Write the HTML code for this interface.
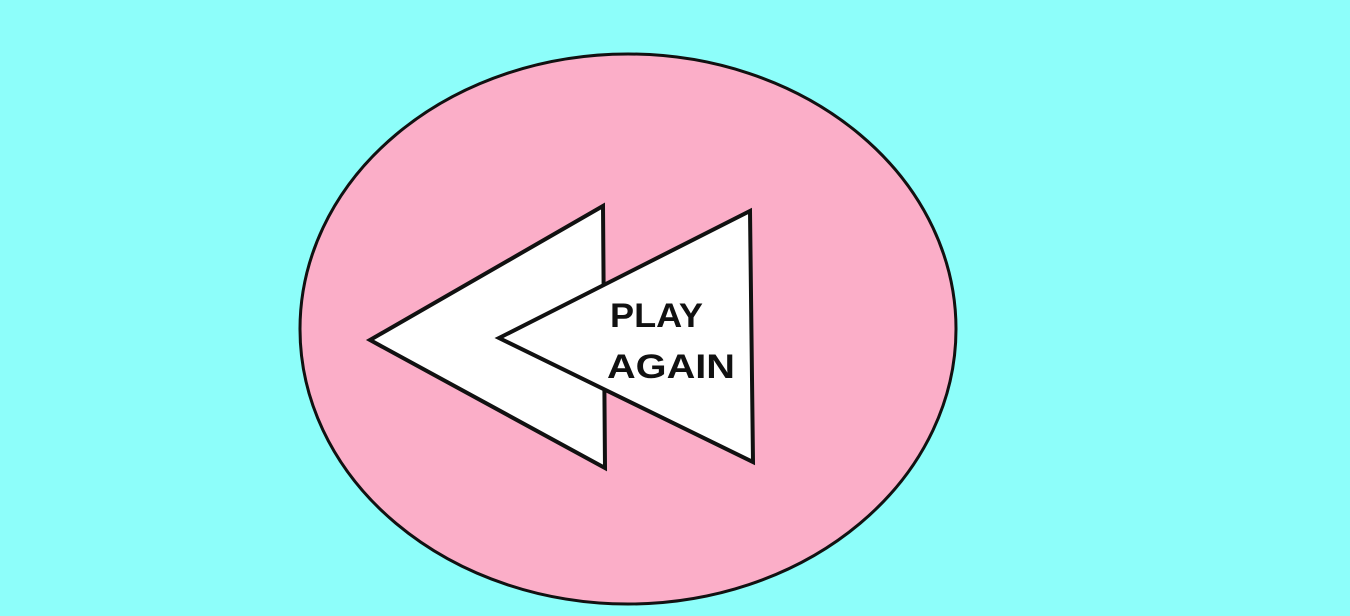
<!DOCTYPE html>
<html><head><meta charset="utf-8"><style>
html,body{margin:0;padding:0;background:#8dfefa;width:1350px;height:616px;overflow:hidden}
svg{display:block}
</style></head><body>
<svg width="1350" height="616" viewBox="0 0 1350 616">
<rect x="0" y="0" width="1350" height="616" fill="#8dfefa"/>
<g>
<ellipse cx="628" cy="329" rx="328" ry="275" fill="#fbaec8" stroke="#111" stroke-width="3"/>
<polygon points="370,340 603,206 605,468" fill="#fff" stroke="#111" stroke-width="4" stroke-linejoin="miter"/>
<polygon points="499,338 750,211 753,462" fill="#fff" stroke="#111" stroke-width="4"/>
<text x="610" y="327" font-family="Liberation Sans, sans-serif" font-weight="bold" font-size="34" textLength="93" lengthAdjust="spacingAndGlyphs" fill="#111">PLAY</text>
<text x="607" y="378" font-family="Liberation Sans, sans-serif" font-weight="bold" font-size="34" textLength="128" lengthAdjust="spacingAndGlyphs" fill="#111">AGAIN</text>
</g>
</svg>
</body></html>
